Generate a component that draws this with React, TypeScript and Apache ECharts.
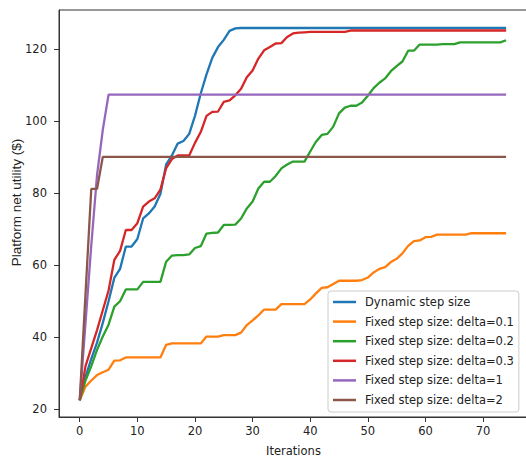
import React, { useEffect, useRef } from "react";
import * as echarts from "echarts";

const iterations: number[] = Array.from({ length: 75 }, (_, i) => i);

const dynamicStep: number[] = [
  22.5, 29, 34, 38.5, 44, 50, 56.5, 59, 65.2, 65.2,
  67.3, 73, 74.4, 76.3, 79.8, 88, 90.5, 93.8, 94.5, 96.5,
  101.5, 107.7, 113, 117.6, 120.6, 122.6, 125.1, 125.8, 125.9, 125.9,
  125.9, 125.9, 125.9, 125.9, 125.9, 125.9, 125.9, 125.9, 125.9, 125.9,
  125.9, 125.9, 125.9, 125.9, 125.9, 125.9, 125.9, 125.9, 125.9, 125.9,
  125.9, 125.9, 125.9, 125.9, 125.9, 125.9, 125.9, 125.9, 125.9, 125.9,
  125.9, 125.9, 125.9, 125.9, 125.9, 125.9, 125.9, 125.9, 125.9, 125.9,
  125.9, 125.9, 125.9, 125.9, 125.9,
];

const delta01: number[] = [
  22.5, 26.3, 28, 29.5, 30.3, 31, 33.5, 33.6, 34.4, 34.4,
  34.4, 34.4, 34.4, 34.4, 34.4, 37.9, 38.3, 38.3, 38.3, 38.3,
  38.3, 38.3, 40.2, 40.2, 40.2, 40.6, 40.6, 40.6, 41.3, 43.4,
  44.7, 46.1, 47.7, 47.7, 47.7, 49.2, 49.2, 49.2, 49.2, 49.2,
  50.5, 52.2, 53.7, 53.9, 54.8, 55.7, 55.7, 55.7, 55.7, 55.9,
  56.6, 58, 59, 59.5, 60.9, 61.8, 63.3, 65.4, 66.7, 66.9,
  67.8, 67.9, 68.5, 68.5, 68.5, 68.5, 68.5, 68.5, 68.9, 68.9,
  68.9, 68.9, 68.9, 68.9, 68.9,
];

const delta02: number[] = [
  22.5, 28, 32, 36.5, 40.2, 43.5, 48.5, 50, 53.3, 53.3,
  53.3, 55.4, 55.4, 55.4, 55.4, 61, 62.7, 62.8, 62.8, 63,
  64.8, 65.3, 68.8, 69, 69.1, 71.2, 71.2, 71.3, 73, 75.8,
  77.7, 81.3, 83.2, 83.2, 84.8, 86.9, 88, 88.8, 88.8, 88.8,
  91.6, 94.3, 96.2, 96.5, 98.5, 102.2, 103.8, 104.3, 104.3, 105.2,
  107.1, 109.2, 110.7, 111.9, 113.9, 115.3, 116.6, 119.6, 119.6, 121.3,
  121.3, 121.3, 121.3, 121.4, 121.4, 121.4, 121.9, 121.9, 121.9, 121.9,
  121.9, 121.9, 121.9, 121.9, 122.5,
];

const delta03: number[] = [
  22.5, 32, 37, 42, 47.5, 53, 61.5, 64, 69.8, 69.8,
  71.7, 76.3, 77.7, 78.6, 81, 87, 89.5, 90.5, 90.5, 90.5,
  94, 97, 101.5, 102.6, 102.7, 105.4, 105.8, 107.2, 109, 112.2,
  114.1, 117.4, 119.7, 120.6, 121.6, 121.7, 123.4, 124.4, 124.6, 124.7,
  124.8, 124.8, 124.8, 124.8, 124.8, 124.8, 124.8, 125.2, 125.2, 125.2,
  125.2, 125.2, 125.2, 125.2, 125.2, 125.2, 125.2, 125.2, 125.2, 125.2,
  125.2, 125.2, 125.2, 125.2, 125.2, 125.2, 125.2, 125.2, 125.2, 125.2,
  125.2, 125.2, 125.2, 125.2, 125.2,
];

const delta1: number[] = [
  22.5, 44, 65.5, 85, 97.6, 107.4, 107.4, 107.4, 107.4, 107.4,
  107.4, 107.4, 107.4, 107.4, 107.4, 107.4, 107.4, 107.4, 107.4, 107.4,
  107.4, 107.4, 107.4, 107.4, 107.4, 107.4, 107.4, 107.4, 107.4, 107.4,
  107.4, 107.4, 107.4, 107.4, 107.4, 107.4, 107.4, 107.4, 107.4, 107.4,
  107.4, 107.4, 107.4, 107.4, 107.4, 107.4, 107.4, 107.4, 107.4, 107.4,
  107.4, 107.4, 107.4, 107.4, 107.4, 107.4, 107.4, 107.4, 107.4, 107.4,
  107.4, 107.4, 107.4, 107.4, 107.4, 107.4, 107.4, 107.4, 107.4, 107.4,
  107.4, 107.4, 107.4, 107.4, 107.4,
];

const delta2: number[] = [
  22.5, 52, 81.2, 81.2, 90.1, 90.1, 90.1, 90.1, 90.1, 90.1,
  90.1, 90.1, 90.1, 90.1, 90.1, 90.1, 90.1, 90.1, 90.1, 90.1,
  90.1, 90.1, 90.1, 90.1, 90.1, 90.1, 90.1, 90.1, 90.1, 90.1,
  90.1, 90.1, 90.1, 90.1, 90.1, 90.1, 90.1, 90.1, 90.1, 90.1,
  90.1, 90.1, 90.1, 90.1, 90.1, 90.1, 90.1, 90.1, 90.1, 90.1,
  90.1, 90.1, 90.1, 90.1, 90.1, 90.1, 90.1, 90.1, 90.1, 90.1,
  90.1, 90.1, 90.1, 90.1, 90.1, 90.1, 90.1, 90.1, 90.1, 90.1,
  90.1, 90.1, 90.1, 90.1, 90.1,
];

const seriesNames: string[] = [
  "Dynamic step size",
  "Fixed step size: delta=0.1",
  "Fixed step size: delta=0.2",
  "Fixed step size: delta=0.3",
  "Fixed step size: delta=1",
  "Fixed step size: delta=2",
];
const seriesColors: string[] = ["#1f77b4", "#ff7f0e", "#2ca02c", "#d62728", "#9467bd", "#8c564b"];
const xTicks: number[] = [0, 10, 20, 30, 40, 50, 60, 70];
const yTicks: number[] = [20, 40, 60, 80, 100, 120];

const FONT = "DejaVu Sans";

export default function App() {
  const ref = useRef<HTMLDivElement>(null);
  useEffect(() => {
    if (!ref.current) return;
    const chart = echarts.init(ref.current, undefined, { renderer: "svg" });
    const allData = [dynamicStep, delta01, delta02, delta03, delta1, delta2];
    chart.setOption({
      animation: false,
      backgroundColor: "#ffffff",
      grid: {
        left: 59,
        top: 10,
        right: -2,
        bottom: 43,
        show: true,
        borderColor: "#333333",
        borderWidth: 1,
        containLabel: false,
        outerBoundsMode: "none",
      },
      xAxis: {
        type: "value",
        min: -3.6,
        max: 77.8,
        name: "Iterations",
        nameLocation: "middle",
        nameGap: 28,
        nameMoveOverlap: false,
        nameTextStyle: { fontFamily: FONT, fontSize: 11.5, color: "#222" },
        axisLine: { show: true, onZero: false, lineStyle: { color: "#333", width: 1 } },
        axisTick: { show: true, length: 5, lineStyle: { color: "#333" }, customValues: xTicks },
        axisLabel: { fontFamily: FONT, fontSize: 11.5, color: "#222", margin: 8, customValues: xTicks },
        splitLine: { show: false },
      },
      yAxis: {
        type: "value",
        min: 17.86,
        max: 130.9,
        name: "Platform net utility ($)",
        nameLocation: "middle",
        nameGap: 36,
        nameMoveOverlap: false,
        nameTextStyle: { fontFamily: "Liberation Sans", fontSize: 13.5, color: "#222", padding: [0, 0, 0, 22] },
        axisLine: { show: true, onZero: false, lineStyle: { color: "#333", width: 1 } },
        axisTick: { show: true, length: 5, lineStyle: { color: "#333" }, customValues: yTicks },
        axisLabel: { fontFamily: FONT, fontSize: 11.5, color: "#222", margin: 12, customValues: yTicks },
        splitLine: { show: false },
      },
      legend: {
        orient: "vertical",
        left: 328,
        top: 291,
        padding: [4, 5, 5, 5],
        itemGap: 5.6,
        itemWidth: 23,
        itemHeight: 2.5,
        icon: "rect",
        backgroundColor: "rgba(255,255,255,0.8)",
        borderColor: "#cccccc",
        borderWidth: 1,
        borderRadius: 3,
        textStyle: { fontFamily: FONT, fontSize: 11.5, color: "#222", lineHeight: 14, padding: [0, 0, 0, 4] },
        data: seriesNames,
      },
      series: seriesNames.map((name, k) => ({
        name,
        type: "line",
        data: iterations.map((x, i) => [x, allData[k][i]]),
        showSymbol: false,
        symbol: "none",
        lineStyle: { color: seriesColors[k], width: 2.3 },
        itemStyle: { color: seriesColors[k] },
        z: 2 + k,
      })),
    });
    return () => chart.dispose();
  }, []);
  return (
    <div
      ref={ref}
      style={{ position: "fixed", left: 0, top: 0, width: 526, height: 460 }}
    />
  );
}
